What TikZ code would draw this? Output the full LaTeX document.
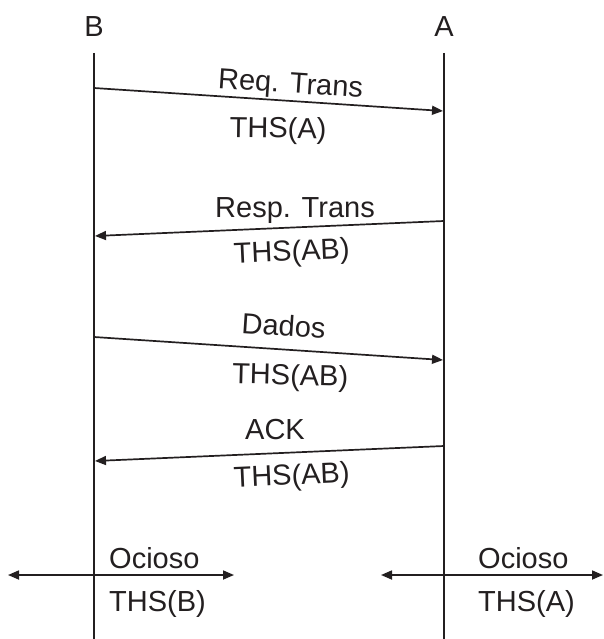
\documentclass[tikz,border=0pt]{standalone}
\usepackage{fontspec}
\setmainfont{Liberation Sans}
\usetikzlibrary{arrows.meta}
\definecolor{ink}{HTML}{231F20}
\begin{document}
\begin{tikzpicture}[x=1pt,y=-1pt,
  ink/.style={color=ink},
  lifeline/.style={ink,line width=1.9pt},
  msg/.style={ink,line width=1.7pt,-{Triangle[length=11pt,width=9pt]}},
  idle/.style={ink,line width=1.7pt,{Triangle[length=11pt,width=9pt]}-{Triangle[length=11pt,width=9pt]}},
  lbl/.style={ink,inner sep=0pt,anchor=base,font=\fontsize{29}{34}\selectfont},
  lblw/.style={lbl,anchor=base west}]
\useasboundingbox (0,0) rectangle (603,639);

% lifelines
\coordinate (bTop) at (94,53);  \coordinate (bBot) at (94,639);
\coordinate (aTop) at (444,53); \coordinate (aBot) at (444,639);
\node[lbl] (nameB) at (94,37) {B};
\node[lbl] (nameA) at (444,37) {A};
\draw[lifeline] (bTop) -- (bBot);
\draw[lifeline] (aTop) -- (aBot);

% message end points on the lifelines
\coordinate (m1s) at (94,88);  \coordinate (m1e) at (443,111);
\coordinate (m2s) at (444,221); \coordinate (m2e) at (95,236);
\coordinate (m3s) at (94,337); \coordinate (m3e) at (443,360);
\coordinate (m4s) at (444,446); \coordinate (m4e) at (95,461);

\draw[msg] (m1s) -- (m1e);
\draw[msg] (m2s) -- (m2e);
\draw[msg] (m3s) -- (m3e);
\draw[msg] (m4s) -- (m4e);

% message labels
\node[lbl,rotate=-3.8] (req)   at (290,93)  {Req. Trans};
\node[lbl,rotate=-0.8] (ths1)  at (278,138) {THS(A)};
\node[lbl]             (resp)  at (295,217) {Resp. Trans};
\node[lbl,rotate=2.6]  (ths2)  at (292,261) {THS(AB)};
\node[lbl,rotate=-3.8] (dados) at (283,336) {Dados};
\node[lbl,rotate=-1.5] (ths3)  at (290,385) {THS(AB)};
\node[lbl]             (ack)   at (275,439) {ACK};
\node[lbl,rotate=2.6]  (ths4)  at (292,485) {THS(AB)};

% idle periods
\coordinate (iBl) at (8,575);   \coordinate (iBr) at (234,575);
\coordinate (iAl) at (381,575); \coordinate (iAr) at (603,575);
\draw[idle] (iBl) -- (iBr);
\draw[idle] (iAl) -- (iAr);
\node[lblw] (ocB)  at (109,568) {Ocioso};
\node[lblw] (thsB) at (109,611) {THS(B)};
\node[lblw] (ocA)  at (478,568) {Ocioso};
\node[lblw] (thsA) at (478,611) {THS(A)};
\end{tikzpicture}
\end{document}
